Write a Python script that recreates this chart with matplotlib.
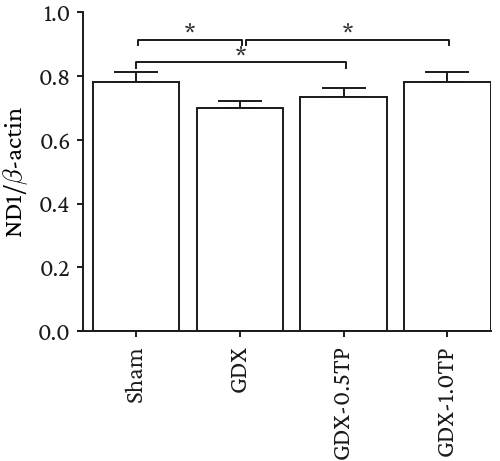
import numpy as np
import matplotlib.pyplot as plt

groups = ['Sham', 'GDX', 'GDX-0.5TP', 'GDX-1.0TP']
means = [0.781, 0.700, 0.734, 0.781]
errs = [0.032, 0.023, 0.028, 0.032]
# significance brackets: (left, right, height)
sig = [(0, 1, 0.915), (1, 3, 0.915), (0, 2, 0.843)]

plt.rcParams['font.family'] = ['Crimson Pro', 'Liberation Serif', 'DejaVu Serif']
plt.rcParams['mathtext.fontset'] = 'custom'
plt.rcParams['mathtext.it'] = 'Crimson Pro:italic'
plt.rcParams['mathtext.rm'] = 'Crimson Pro'

fig = plt.figure(figsize=(5.0, 4.61), dpi=100)
ax = fig.add_axes([0.156, 0.282, 0.825, 0.691])

lw = 1.4
col = '#1a1a1a'
x = np.arange(len(groups))
ax.bar(x, means, width=0.834, color='white', edgecolor=col, linewidth=lw, zorder=2)
ax.errorbar(x, means, yerr=[np.zeros(len(errs)), errs], fmt='none', ecolor=col,
            elinewidth=lw, capsize=15.5, capthick=lw, zorder=1)

offs = {(0, 1): (0.015, 0.02), (1, 3): (0.055, 0.02), (0, 2): (0.0, 0.02)}
for a, b, h in sig:
    oa, ob = offs[(a, b)]
    xa, xb = a + oa, b + ob
    d = 0.016
    ax.plot([xa, xa, xb, xb], [h - d, h, h, h - d], color=col, lw=lw, clip_on=False)
    ax.text((xa + xb) / 2, h + 0.013, '*', ha='center', va='center', fontsize=20, color='#333333')

ax.set_xlim(-0.56, 3.417)
ax.set_ylim(0, 1.0)
ax.spines['left'].set_position(('data', -0.51))
ax.spines['top'].set_visible(False)
ax.spines['right'].set_visible(False)
for s in ['left', 'bottom']:
    ax.spines[s].set_linewidth(lw)
    ax.spines[s].set_color(col)

ax.set_yticks(np.arange(0, 1.01, 0.2))
ax.set_yticklabels(['%.1f' % v for v in np.arange(0, 1.01, 0.2)])
ax.set_xticks(x)
ax.set_xticklabels(groups, rotation=90)
ax.tick_params(axis='both', direction='out', length=4, width=lw, colors=col)
ax.tick_params(axis='y', labelsize=17.5, pad=5)
ax.tick_params(axis='x', labelsize=18, pad=6)
ax.set_ylabel(r'ND1/$\it{\beta}$-actin', fontsize=19, labelpad=6)

fig.savefig('out.png', dpi=100)
